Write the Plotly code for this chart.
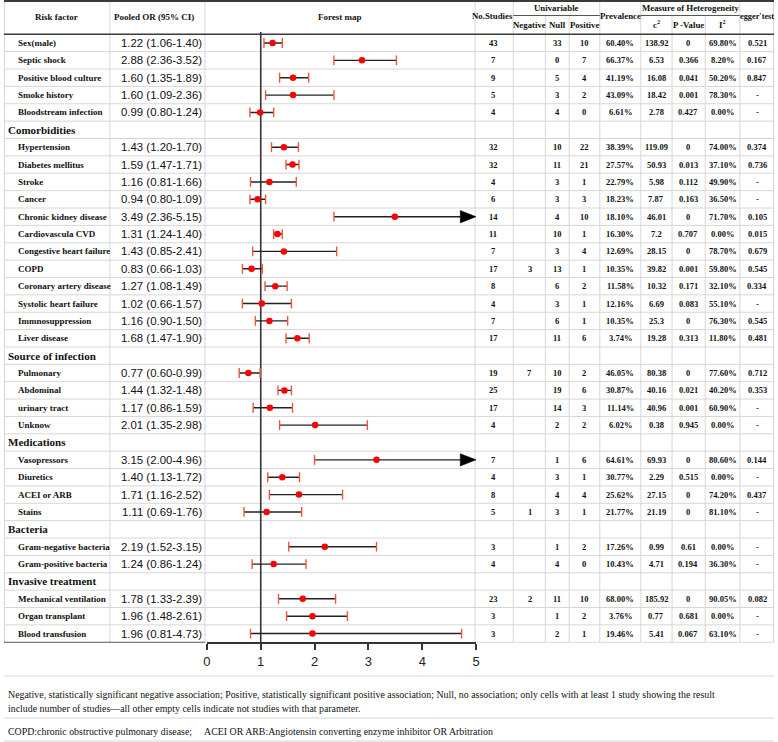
import plotly.graph_objects as go

W, H = 778, 742

# ---------------- data ----------------
risk_factors = ["Sex(male)", "Septic shock", "Positive blood culture", "Smoke history", "Bloodstream infection",
                "Comorbidities",
                "Hypertension", "Diabetes mellitus", "Stroke", "Cancer", "Chronic kidney disease",
                "Cardiovascula CVD", "Congestive heart failure", "COPD", "Coronary artery disease",
                "Systolic heart failure", "Immnosuppression", "Liver disease",
                "Source of infection",
                "Pulmonary", "Abdominal", "urinary tract", "Unknow",
                "Medications",
                "Vasopressors", "Diuretics", "ACEI or ARB", "Stains",
                "Bacteria",
                "Gram-negative bacteria", "Gram-positive bacteria",
                "Invasive treatment",
                "Mechanical ventilation", "Organ transplant", "Blood transfusion"]
section_headers = ["Comorbidities", "Source of infection", "Medications", "Bacteria", "Invasive treatment"]

or_text = ["1.22 (1.06-1.40)", "2.88 (2.36-3.52)", "1.60 (1.35-1.89)", "1.60 (1.09-2.36)", "0.99 (0.80-1.24)", "",
           "1.43 (1.20-1.70)", "1.59 (1.47-1.71)", "1.16 (0.81-1.66)", "0.94 (0.80-1.09)", "3.49 (2.36-5.15)",
           "1.31 (1.24-1.40)", "1.43 (0.85-2.41)", "0.83 (0.66-1.03)", "1.27 (1.08-1.49)", "1.02 (0.66-1.57)",
           "1.16 (0.90-1.50)", "1.68 (1.47-1.90)", "",
           "0.77 (0.60-0.99)", "1.44 (1.32-1.48)", "1.17 (0.86-1.59)", "2.01 (1.35-2.98)", "",
           "3.15 (2.00-4.96)", "1.40 (1.13-1.72)", "1.71 (1.16-2.52)", "1.11 (0.69-1.76)", "",
           "2.19 (1.52-3.15)", "1.24 (0.86-1.24)", "",
           "1.78 (1.33-2.39)", "1.96 (1.48-2.61)", "1.96 (0.81-4.73)"]

or_est = [1.22, 2.88, 1.60, 1.60, 0.99, None,
          1.43, 1.59, 1.16, 0.94, 3.49, 1.31, 1.43, 0.83, 1.27, 1.02, 1.16, 1.68, None,
          0.77, 1.44, 1.17, 2.01, None,
          3.15, 1.40, 1.71, 1.11, None,
          2.19, 1.24, None,
          1.78, 1.96, 1.96]
ci_low = [1.06, 2.36, 1.35, 1.09, 0.80, None,
          1.20, 1.47, 0.81, 0.80, 2.36, 1.24, 0.85, 0.66, 1.08, 0.66, 0.90, 1.47, None,
          0.60, 1.32, 0.86, 1.35, None,
          2.00, 1.13, 1.16, 0.69, None,
          1.52, 0.84, None,
          1.33, 1.48, 0.81]
ci_high = [1.40, 3.52, 1.89, 2.36, 1.24, None,
           1.70, 1.71, 1.66, 1.09, 5.15, 1.40, 2.41, 1.03, 1.49, 1.57, 1.50, 1.90, None,
           0.99, 1.57, 1.59, 2.98, None,
           4.96, 1.72, 2.52, 1.76, None,
           3.15, 1.84, None,
           2.39, 2.61, 4.73]
arrow_rows = ["Chronic kidney disease", "Vasopressors"]

n_studies = ["43", "7", "9", "5", "4", "", "32", "32", "4", "6", "14", "11", "7", "17", "8", "4", "7", "17", "",
             "19", "25", "17", "4", "", "7", "4", "8", "5", "", "3", "4", "", "23", "3", "3"]
uni_negative = ["", "", "", "", "", "", "", "", "", "", "", "", "", "3", "", "", "", "", "",
                "7", "", "", "", "", "", "", "", "1", "", "", "", "", "2", "", ""]
uni_null = ["33", "0", "5", "3", "4", "", "10", "11", "3", "3", "4", "10", "3", "13", "6", "3", "6", "11", "",
            "10", "19", "14", "2", "", "1", "3", "4", "3", "", "1", "4", "", "11", "1", "2"]
uni_positive = ["10", "7", "4", "2", "0", "", "22", "21", "1", "3", "10", "1", "4", "1", "2", "1", "1", "6", "",
                "2", "6", "3", "2", "", "6", "1", "4", "1", "", "2", "0", "", "10", "2", "1"]
prevalence = ["60.40%", "66.37%", "41.19%", "43.09%", "6.61%", "",
              "38.39%", "27.57%", "22.79%", "18.23%", "18.10%", "16.30%", "12.69%", "10.35%", "11.58%",
              "12.16%", "10.35%", "3.74%", "",
              "46.05%", "30.87%", "11.14%", "6.02%", "",
              "64.61%", "30.77%", "25.62%", "21.77%", "",
              "17.26%", "10.43%", "",
              "68.00%", "3.76%", "19.46%"]
chi2 = ["138.92", "6.53", "16.08", "18.42", "2.78", "",
        "119.09", "50.93", "5.98", "7.87", "46.01", "7.2", "28.15", "39.82", "10.32", "6.69", "25.3", "19.28", "",
        "80.38", "40.16", "40.96", "0.38", "",
        "69.93", "2.29", "27.15", "21.19", "",
        "0.99", "4.71", "",
        "185.92", "0.77", "5.41"]
p_value = ["0", "0.366", "0.041", "0.001", "0.427", "",
           "0", "0.013", "0.112", "0.163", "0", "0.707", "0", "0.001", "0.171", "0.083", "0", "0.313", "",
           "0", "0.021", "0.001", "0.945", "",
           "0", "0.515", "0", "0", "",
           "0.61", "0.194", "",
           "0", "0.681", "0.067"]
i2 = ["69.80%", "8.20%", "50.20%", "78.30%", "0.00%", "",
      "74.00%", "37.10%", "49.90%", "36.50%", "71.70%", "0.00%", "78.70%", "59.80%", "32.10%", "55.10%",
      "76.30%", "11.80%", "",
      "77.60%", "40.20%", "60.90%", "0.00%", "",
      "80.60%", "0.00%", "74.20%", "81.10%", "",
      "0.00%", "36.30%", "",
      "90.05%", "0.00%", "63.10%"]
egger = ["0.521", "0.167", "0.847", "-", "-", "",
         "0.374", "0.736", "-", "-", "0.105", "0.015", "0.679", "0.545", "0.334", "-", "0.545", "0.481", "",
         "0.712", "0.353", "-", "-", "",
         "0.144", "-", "0.437", "-", "",
         "-", "-", "",
         "0.082", "-", "-"]
axis_ticks = [0, 1, 2, 3, 4, 5]

footnote_1 = ("Negative, statistically significant negative association; Positive, statistically significant "
              "positive association; Null, no association; only cells with at least 1 study showing the result")
footnote_2 = "include number of studies\u2014all other empty cells indicate not studies with that parameter."
footnote_3a = "COPD:chronic obstructive pulmonary disease;"
footnote_3b = "ACEI OR ARB:Angiotensin converting enzyme inhibitor OR Arbitration"

# ---------------- geometry / style ----------------
SERIF = "Liberation Serif, Times New Roman, serif"
SANS = "Liberation Sans, Arial, sans-serif"
LIGHT = "#d6d6d6"
DARK = "#3a3a3a"
TXT = "#111111"

HEADER_BOTTOM = 34.3
ROW_H = 17.37
N = len(risk_factors)
TABLE_BOTTOM = HEADER_BOTTOM + N * ROW_H
SUB_LINE = 15.5
COL_EDGES = [0, 107, 203, 476, 514.5, 547, 571, 602, 643.5, 675, 708.5, 743.5, 778]
PLOT_X0, PLOT_X1 = 205, 477
AXIS_MIN, AXIS_MAX = 0, 5


def xp(px):
    return px / W


def yp(py):
    return 1 - py / H


def row_center(i):
    return HEADER_BOTTOM + (i + 0.5) * ROW_H


fig = go.Figure()
shapes = []
ann = []


def hline(y, x0, x1, color=LIGHT, width=1):
    shapes.append(dict(type="line", xref="paper", yref="paper", x0=xp(x0), x1=xp(x1), y0=yp(y), y1=yp(y),
                       line=dict(color=color, width=width), layer="below"))


def vline(x, y0, y1, color=LIGHT, width=1):
    shapes.append(dict(type="line", xref="paper", yref="paper", x0=xp(x), x1=xp(x), y0=yp(y0), y1=yp(y1),
                       line=dict(color=color, width=width), layer="below"))


def text(s, x, y, size, family=SERIF, bold=True, xanchor="center"):
    ann.append(dict(text=s, xref="paper", yref="paper", x=xp(x), y=yp(y), xanchor=xanchor, yanchor="middle",
                    showarrow=False, font=dict(family=family, size=size, color=TXT,
                                                weight="bold" if bold else "normal")))


# table grid
for k in range(1, N):
    hline(HEADER_BOTTOM + k * ROW_H, 0, W)
for x in COL_EDGES[1:-1]:
    top = SUB_LINE if x in (547, 571, 675, 708.5) else 0
    vline(x, top, TABLE_BOTTOM)
vline(0.5, 0, TABLE_BOTTOM)
vline(777.5, 0, TABLE_BOTTOM)
hline(1, 0, W, DARK, 2)
hline(HEADER_BOTTOM, 0, W, DARK, 1.5)
hline(SUB_LINE, 514.5, 602, "#555555", 1)
hline(SUB_LINE, 643.5, 743.5, "#555555", 1)
hline(TABLE_BOTTOM, 0, 203, "#555555", 1)
hline(TABLE_BOTTOM, 476, W, LIGHT, 1)
hline(676, 0, W)
hline(718, 0, W)
hline(741, 0, W)

# header text
HS = 8.8
text("Risk factor", 53, 17, 9)
text("Pooled OR (95% CI)", 152, 17, 9)
text("Forest map", 339, 17, 9)
text("No.Studies", 494, 16.5, HS)
text("Univariable", 558, 8, HS)
text("Negative", 531, 25, HS)
text("Null", 559, 25, HS)
text("Positive", 586.5, 25, HS)
text("Prevalence", 622.5, 16.5, HS)
text("Measure of Heterogeneity", 693.5, 8, HS)
text("c<sup>2</sup>", 659, 25, HS)
text("P -Value", 691.5, 25, HS)
text("I<sup>2</sup>", 726, 25, HS)
text("egger'test", 760.5, 16.5, 8.3)

# body text
col_centers = [494.5, 531, 559, 586.5, 622.5, 659, 691.5, 726, 761]
for i, name in enumerate(risk_factors):
    yc = row_center(i)
    if name in section_headers:
        text(name, 2, yc, 11, xanchor="left")
        continue
    text(name, 12, yc, 9, xanchor="left")
    text(or_text[i], 159.5, yc, 11.4, family=SANS, bold=False)
    vals = [n_studies[i], uni_negative[i], uni_null[i], uni_positive[i], prevalence[i],
            chi2[i], p_value[i], i2[i], egger[i]]
    for cx, v in zip(col_centers, vals):
        if v:
            text(v, cx, yc, 8.5)

# footnotes
FS = 9.9
text(footnote_1, 2, 694, FS, bold=False, xanchor="left")
text(footnote_2, 2, 708, FS, bold=False, xanchor="left")
text(footnote_3a, 2, 731.5, FS, bold=False, xanchor="left")
text(footnote_3b, 200, 731.5, FS, bold=False, xanchor="left")

# ---------------- forest plot ----------------
px_per_x = (PLOT_X1 - PLOT_X0) / (AXIS_MAX - AXIS_MIN)
ARROW_LEN = 16 / px_per_x
ARROW_HALF = 6.2 / ROW_H

line_x, line_y = [], []
cap_x, cap_y = [], []
tri_x, tri_y = [], []
dot_x, dot_y = [], []
for i, name in enumerate(risk_factors):
    if or_est[i] is None:
        continue
    dot_x.append(or_est[i])
    dot_y.append(i)
    cap_x.append(ci_low[i])
    cap_y.append(i)
    if name in arrow_rows:
        base = AXIS_MAX - ARROW_LEN
        line_x += [ci_low[i], base, None]
        line_y += [i, i, None]
        tri_x += [base, AXIS_MAX, base, base, None]
        tri_y += [i - ARROW_HALF, i, i + ARROW_HALF, i - ARROW_HALF, None]
    else:
        line_x += [ci_low[i], ci_high[i], None]
        line_y += [i, i, None]
        cap_x.append(ci_high[i])
        cap_y.append(i)

fig.add_trace(go.Scatter(x=line_x, y=line_y, mode="lines", line=dict(color="#222222", width=1.4),
                         hoverinfo="skip", showlegend=False))
fig.add_trace(go.Scatter(x=cap_x, y=cap_y, mode="markers",
                         marker=dict(symbol="line-ns-open", size=7, line=dict(color="#222222", width=1.4)),
                         hoverinfo="skip", showlegend=False))
fig.add_trace(go.Scatter(x=tri_x, y=tri_y, mode="lines", fill="toself", fillcolor="#000000",
                         line=dict(color="#000000", width=0.5), hoverinfo="skip", showlegend=False))
fig.add_trace(go.Scatter(x=dot_x, y=dot_y, mode="markers",
                         marker=dict(color="#ff0000", size=6.5, line=dict(width=0)),
                         showlegend=False))

# reference line at OR = 1
shapes.append(dict(type="line", xref="x", yref="paper", x0=1, x1=1, y0=yp(TABLE_BOTTOM), y1=yp(32),
                   line=dict(color="#333333", width=1.6), layer="below"))

fig.update_layout(
    width=W, height=H, autosize=False,
    margin=dict(l=0, r=0, t=0, b=0),
    paper_bgcolor="white", plot_bgcolor="rgba(0,0,0,0)",
    shapes=shapes, annotations=ann,
    xaxis=dict(domain=[xp(PLOT_X0), xp(PLOT_X1)], range=[AXIS_MIN, AXIS_MAX], tickvals=axis_ticks,
               showgrid=False, zeroline=False, showline=True, linecolor="#333333", linewidth=2,
               ticks="outside", ticklen=6, tickwidth=2, tickcolor="#333333",
               tickfont=dict(family=SANS, size=13, color="#222222"), fixedrange=True),
    yaxis=dict(domain=[yp(TABLE_BOTTOM), yp(HEADER_BOTTOM)], range=[N - 0.5, -0.5], visible=False,
               fixedrange=True),
)

fig.write_html(
    "out.html",
    config={"displayModeBar": False},
    post_script="document.body.style.margin='0';document.body.style.overflow='hidden';"
                "document.documentElement.style.overflow='hidden';",
)
